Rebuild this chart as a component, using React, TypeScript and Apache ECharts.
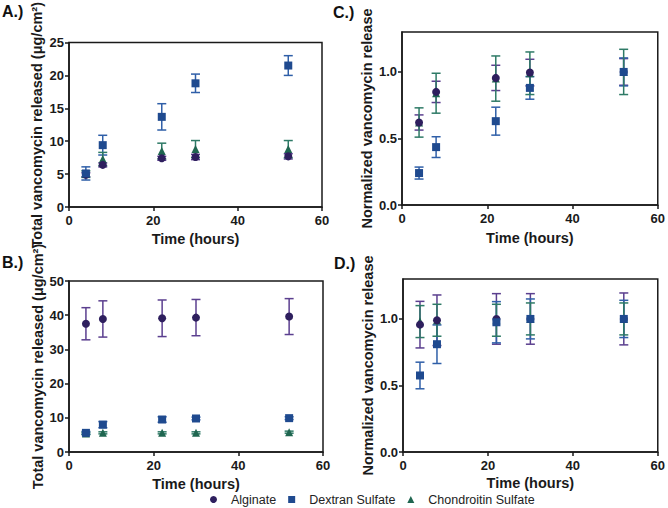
import React, { useEffect, useRef } from "react";
import * as echarts from "echarts";

// Sampling times (hours)
const hours = [4, 8, 22, 30, 52];

const compounds = ["Alginate", "Dextran Sulfate", "Chondroitin Sulfate"];

// A.) total vancomycin released (μg/cm²), mean and SD
const aAlginateMean = [4.9, 6.4, 7.4, 7.6, 7.7];
const aAlginateSd = [0.3, 0.3, 0.3, 0.4, 0.4];
const aDextranMean = [5.1, 9.4, 13.7, 18.8, 21.5];
const aDextranSd = [1.0, 1.5, 2.0, 1.4, 1.5];
const aChondroitinMean = [5.0, 7.3, 8.5, 8.8, 8.8];
const aChondroitinSd = [0.5, 1.0, 1.2, 1.3, 1.3];

// B.) total vancomycin released (μg/cm²), mean and SD
const bAlginateMean = [37.5, 38.9, 39.1, 39.3, 39.6];
const bAlginateSd = [4.7, 5.3, 5.35, 5.3, 5.25];
const bDextranMean = [5.6, 8.0, 9.5, 9.8, 9.9];
const bDextranSd = [0.4, 0.9, 0.8, 0.4, 0.4];
const bChondroitinMean = [5.4, 5.6, 5.6, 5.6, 5.8];
const bChondroitinSd = [0.3, 0.3, 0.3, 0.3, 0.3];

// C.) normalized vancomycin release
const cAlginateMean = [0.62, 0.85, 0.955, 0.995, 1.0];
const cAlginateSd = [0.057, 0.08, 0.095, 0.1, 0.1];
const cDextranMean = [0.24, 0.435, 0.63, 0.88, 1.0];
const cDextranSd = [0.045, 0.078, 0.105, 0.085, 0.105];
const cChondroitinMean = [0.62, 0.84, 0.95, 0.99, 1.0];
const cChondroitinSd = [0.11, 0.15, 0.17, 0.16, 0.17];

// D.) normalized vancomycin release
const dAlginateMean = [0.957, 0.99, 1.0, 1.0, 1.0];
const dAlginateSd = [0.175, 0.19, 0.19, 0.19, 0.195];
const dDextranMean = [0.575, 0.81, 0.975, 1.0, 1.0];
const dDextranSd = [0.1, 0.145, 0.155, 0.15, 0.14];
const dChondroitinMean = [0.98, 0.99, 0.99, 1.0, 1.0];
const dChondroitinSd = [0.12, 0.12, 0.12, 0.12, 0.12];

const xTicks = [0, 20, 40, 60];
const normTicks = [0, 0.5, 1.0];

const FONT = "Arial, 'Liberation Sans', Helvetica, sans-serif";

const markerColors = ["#2e1f5e", "#1f4a8f", "#1f6650"];
const barColors = ["#5b3f8f", "#2f5fa8", "#2e7a66"];
const symbols = ["circle", "rect", "triangle"];
const symbolSizes = [8, 8, 8];

type Panel = {
  letter: string;
  letterPos: [number, number];
  grid: { left: number; top: number; width: number; height: number };
  yMax: number;
  yInterval?: number;
  yCustom?: number[];
  yName: string;
  yGap: number;
  xGap: number;
  means: number[][];
  sds: number[][];
  decimals: number;
};

const panels: Panel[] = [
  {
    letter: "A.)",
    letterPos: [2, 3],
    grid: { left: 69, top: 33, width: 253, height: 174 },
    yMax: 25,
    yInterval: 5,
    yName: "Total vancomycin released (μg/cm²)",
    yGap: 25,
    xGap: 24,
    means: [aAlginateMean, aDextranMean, aChondroitinMean],
    sds: [aAlginateSd, aDextranSd, aChondroitinSd],
    decimals: 0,
  },
  {
    letter: "C.)",
    letterPos: [333, 4],
    grid: { left: 402, top: 32, width: 256, height: 173 },
    yMax: 1.3,
    yCustom: normTicks,
    yName: "Normalized vancomycin release",
    yGap: 28,
    xGap: 25,
    means: [cAlginateMean, cDextranMean, cChondroitinMean],
    sds: [cAlginateSd, cDextranSd, cChondroitinSd],
    decimals: 1,
  },
  {
    letter: "B.)",
    letterPos: [2, 254],
    grid: { left: 69, top: 281, width: 254, height: 171 },
    yMax: 50,
    yInterval: 10,
    yName: "Total vancomycin released (μg/cm²)",
    yGap: 21,
    xGap: 24,
    means: [bAlginateMean, bDextranMean, bChondroitinMean],
    sds: [bAlginateSd, bDextranSd, bChondroitinSd],
    decimals: 0,
  },
  {
    letter: "D.)",
    letterPos: [334, 255],
    grid: { left: 403, top: 279, width: 255, height: 173 },
    yMax: 1.3,
    yCustom: normTicks,
    yName: "Normalized vancomycin release",
    yGap: 28,
    xGap: 23,
    means: [dAlginateMean, dDextranMean, dChondroitinMean],
    sds: [dAlginateSd, dDextranSd, dChondroitinSd],
    decimals: 1,
  },
];

function buildOption() {
  const grids: any[] = [];
  const xAxes: any[] = [];
  const yAxes: any[] = [];
  const series: any[] = [];
  const graphics: any[] = [];

  const axisLineStyle = { color: "#1a1a1a", width: 1.5 };
  const labelStyle = {
    fontFamily: FONT,
    fontWeight: "bold",
    fontSize: 13,
    color: "#1a1a1a",
  };
  const nameStyle = {
    fontFamily: FONT,
    fontWeight: "bold",
    fontSize: 14.5,
    color: "#1a1a1a",
  };

  panels.forEach((p, gi) => {
    grids.push({
      ...p.grid,
      show: true,
      borderColor: "#1a1a1a",
      borderWidth: 1.5,
      backgroundColor: "transparent",
    });
    xAxes.push({
      gridIndex: gi,
      type: "value",
      min: 0,
      max: 60,
      interval: 20,
      name: "Time (hours)",
      nameLocation: "middle",
      nameGap: p.xGap,
      nameTextStyle: nameStyle,
      axisLine: { show: true, onZero: false, lineStyle: axisLineStyle },
      axisTick: {
        show: true,
        length: 4,
        lineStyle: axisLineStyle,
        customValues: xTicks,
      },
      axisLabel: { ...labelStyle, margin: 7, customValues: xTicks },
      splitLine: { show: false },
    });
    const yAxis: any = {
      gridIndex: gi,
      type: "value",
      min: 0,
      max: p.yMax,
      name: p.yName,
      nameLocation: "middle",
      nameGap: p.yGap,
      nameTextStyle: nameStyle,
      axisLine: { show: true, onZero: false, lineStyle: axisLineStyle },
      axisTick: { show: true, length: 4, lineStyle: axisLineStyle },
      axisLabel: {
        ...labelStyle,
        margin: 5,
        formatter: (v: number) => v.toFixed(p.decimals),
      },
      splitLine: { show: false },
    };
    if (p.yInterval) yAxis.interval = p.yInterval;
    if (p.yCustom) {
      yAxis.axisTick.customValues = p.yCustom;
      yAxis.axisLabel.customValues = p.yCustom;
    }
    yAxes.push(yAxis);

    // error bars first, markers on top
    compounds.forEach((_, ci) => {
      const rows = hours.map((h, i) => [h, p.means[ci][i], p.sds[ci][i]]);
      const color = barColors[ci];
      series.push({
        type: "custom",
        xAxisIndex: gi,
        yAxisIndex: gi,
        z: 2,
        clip: false,
        silent: true,
        encode: { x: 0, y: 1 },
        data: rows,
        renderItem: (_params: any, api: any) => {
          const x = api.value(0);
          const m = api.value(1);
          const e = api.value(2);
          const top = api.coord([x, m + e]);
          const bot = api.coord([x, m - e]);
          const hw = 4.5;
          const style = { stroke: color, lineWidth: 1.5, fill: "none" };
          return {
            type: "group",
            children: [
              { type: "line", shape: { x1: top[0], y1: top[1], x2: bot[0], y2: bot[1] }, style },
              { type: "line", shape: { x1: top[0] - hw, y1: top[1], x2: top[0] + hw, y2: top[1] }, style },
              { type: "line", shape: { x1: bot[0] - hw, y1: bot[1], x2: bot[0] + hw, y2: bot[1] }, style },
            ],
          };
        },
      });
    });
    [2, 0, 1].forEach((ci) => {
      series.push({
        type: "scatter",
        name: compounds[ci],
        xAxisIndex: gi,
        yAxisIndex: gi,
        z: 3,
        symbol: symbols[ci],
        symbolSize: symbolSizes[ci],
        itemStyle: { color: markerColors[ci], opacity: 1 },
        data: hours.map((h, i) => [h, p.means[ci][i]]),
      });
    });

    graphics.push({
      type: "text",
      left: p.letterPos[0],
      top: p.letterPos[1],
      style: {
        text: p.letter,
        font: `bold 16px ${FONT}`,
        fill: "#111",
      },
    });
  });

  return {
    animation: false,
    backgroundColor: "#ffffff",
    grid: grids,
    xAxis: xAxes,
    yAxis: yAxes,
    series,
    graphic: graphics,
    legend: {
      left: 210,
      top: 493,
      padding: 0,
      itemWidth: 7,
      itemHeight: 7,
      itemGap: 12,
      selectedMode: false,
      data: compounds.map((name, ci) => ({
        name,
        icon: symbols[ci],
        itemStyle: { color: markerColors[ci] },
      })),
      textStyle: {
        fontFamily: FONT,
        fontSize: 12.5,
        color: "#222",
        padding: [0, 0, 0, 9],
      },
    },
  };
}

export default function App() {
  const ref = useRef<HTMLDivElement>(null);
  useEffect(() => {
    if (!ref.current) return;
    const chart = echarts.init(ref.current, undefined, { renderer: "svg" });
    chart.setOption(buildOption() as any);
    return () => chart.dispose();
  }, []);
  return (
    <div
      ref={ref}
      style={{ position: "fixed", left: 0, top: 0, width: 668, height: 508, background: "#fff" }}
    />
  );
}
